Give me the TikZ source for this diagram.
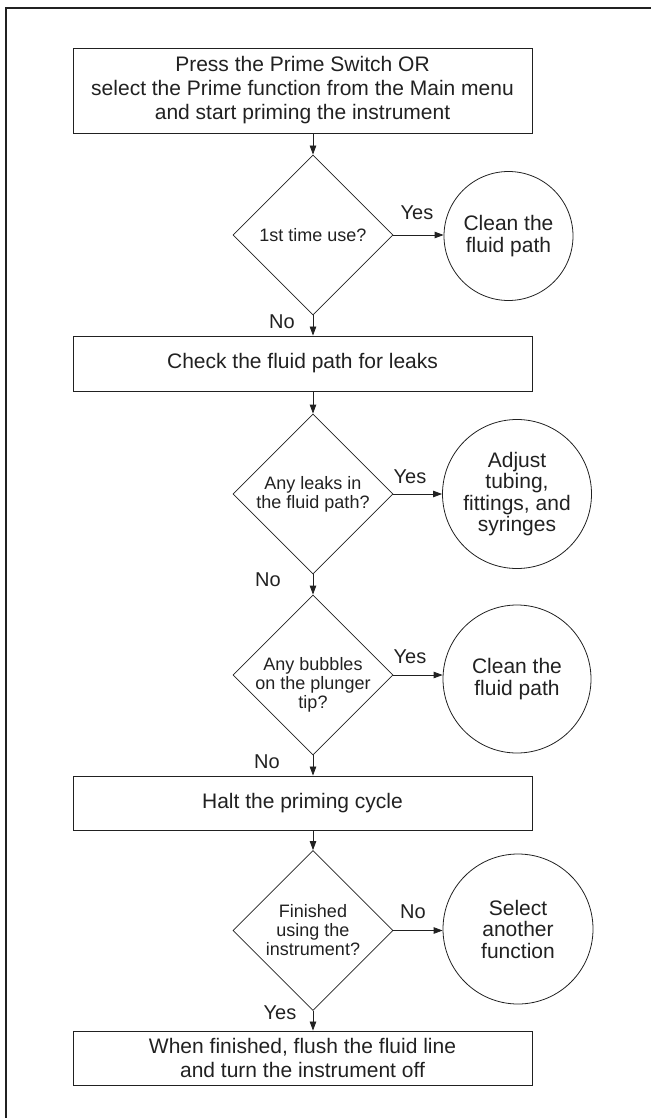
\documentclass[tikz,border=0pt]{standalone}
\usepackage{fontspec}
\setmainfont{Liberation Sans}
\usetikzlibrary{shapes.geometric,arrows.meta,calc}
\definecolor{ink}{rgb}{0.13,0.13,0.13}
\tikzset{
  boxnode/.style={draw=ink, line width=0.9pt, rectangle, minimum width=459pt, inner sep=0pt, align=center, text=ink, font=\fontsize{21}{24}\selectfont},
  decnode/.style={draw=ink, line width=0.8pt, diamond, minimum width=160pt, minimum height=160pt, inner sep=0pt},
  dectext/.style={align=center, text=ink, font=\fontsize{18}{19}\selectfont, inner sep=0pt},
  endnode/.style={draw=ink, line width=0.8pt, circle, inner sep=0pt, align=center, text=ink, font=\fontsize{21}{21.5}\selectfont},
  lbl/.style={text=ink, font=\fontsize{20}{22}\selectfont, inner sep=0pt},
  arr/.style={draw=ink, line width=0.8pt, -{Triangle[length=9pt,width=6.5pt]}},
}
\begin{document}
\begin{tikzpicture}[x=1pt,y=-1pt]
\useasboundingbox (0,0) rectangle (651,1118);
\draw[ink, line width=1.6pt] (6,1118) -- (6,8) -- (651,8);

\node[boxnode, minimum height=85pt] (b1) at (302.5,90.5) {Press the Prime Switch OR\\select the Prime function from the Main menu\\and start priming the instrument};
\node[decnode, label={[dectext]center:1st time use?}] (d1) at (313,235) {};
\node[endnode, minimum size=129pt] (c1) at (508.5,236) {Clean the\\fluid path};
\node[boxnode, minimum height=55pt] (b2) at (302.5,363.5) {Check the fluid path for leaks};
\node[decnode, label={[dectext]center:Any leaks in\\the fluid path?}] (d2) at (313,494) {};
\node[endnode, minimum size=149pt] (c2) at (517,494) {Adjust\\tubing,\\fittings, and\\syringes};
\node[decnode, label={[dectext, yshift=-10pt]center:Any bubbles\\on the plunger\\tip?}] (d3) at (313,675) {};
\node[endnode, minimum size=148pt] (c3) at (517,679) {Clean the\\fluid path};
\node[boxnode, minimum height=54pt] (b3) at (302.5,803) {Halt the priming cycle};
\node[decnode, label={[dectext]center:Finished\\using the\\instrument?}] (d4) at (313,930.5) {};
\node[endnode, minimum size=150pt] (c4) at (518,929) {Select\\another\\function};
\node[boxnode, minimum height=54pt] (b4) at (302.5,1058) {When finished, flush the fluid line\\and turn the instrument off};

\draw[arr] (b1.south -| d1.north) -- (d1.north);
\draw[arr] (d1.east) -- (d1.east -| c1.west);
\draw[arr] (d1.south) -- (d1.south |- b2.north);
\draw[arr] (b2.south -| d2.north) -- (d2.north);
\draw[arr] (d2.east) -- (c2.west);
\draw[arr] (d2.south) -- (d3.north);
\draw[arr] (d3.east) -- (d3.east -| c3.west);
\draw[arr] (d3.south) -- (d3.south |- b3.north);
\draw[arr] (b3.south -| d4.north) -- (d4.north);
\draw[arr] (d4.east) -- (d4.east -| c4.west);
\draw[arr] (d4.south) -- (d4.south |- b4.north);

\node[lbl] (y1) at (417,213) {Yes};
\node[lbl] (n1) at (282,322) {No};
\node[lbl] (y2) at (410,477) {Yes};
\node[lbl] (n2) at (268,580) {No};
\node[lbl] (y3) at (410,657) {Yes};
\node[lbl] (n3) at (267,762) {No};
\node[lbl] (n4) at (413,912) {No};
\node[lbl] (y4) at (280,1013) {Yes};
\end{tikzpicture}
\end{document}
